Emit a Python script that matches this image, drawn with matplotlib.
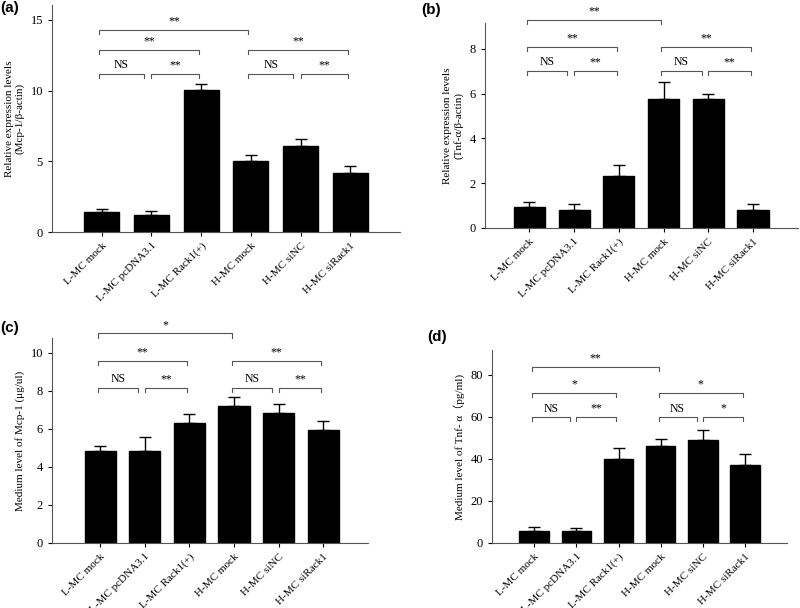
import matplotlib.pyplot as plt
import numpy as np

plt.rcParams['font.family'] = ['Liberation Serif', 'Noto Sans CJK SC', 'DejaVu Sans']

groups = ['L-MC mock', 'L-MC pcDNA3.1', 'L-MC Rack1(+)', 'H-MC mock', 'H-MC siNC', 'H-MC siRack1']

# means and error-bar tops
mcp_rel = [1.45, 1.2, 10.05, 5.0, 6.05, 4.2]
mcp_rel_top = [1.65, 1.5, 10.5, 5.45, 6.55, 4.7]
tnf_rel = [0.95, 0.8, 2.3, 5.75, 5.75, 0.8]
tnf_rel_top = [1.15, 1.05, 2.8, 6.5, 6.0, 1.08]
mcp_med = [4.85, 4.85, 6.3, 7.2, 6.85, 5.95]
mcp_med_top = [5.1, 5.55, 6.75, 7.65, 7.3, 6.4]
tnf_med = [5.5, 5.5, 40, 46, 49.2, 37]
tnf_med_top = [7.5, 7.3, 45, 49.7, 53.8, 42.5]

# significance labels: top, level2 left/right, level3 (4 brackets)
sig_a = ['**', '**', '**', 'NS', '**', 'NS', '**']
sig_b = ['**', '**', '**', 'NS', '**', 'NS', '**']
sig_c = ['*', '**', '**', 'NS', '**', 'NS', '**']
sig_d = ['**', '*', '*', 'NS', '**', 'NS', '*']

fig = plt.figure(figsize=(8, 6.08), dpi=100)


def bracket(ax, x0, x1, y, label, drop):
    ax.plot([x0, x0, x1, x1], [y - drop, y, y, y - drop], color='#555555',
            lw=0.8, clip_on=False)
    ax.text((x0 + x1) / 2, y + drop * 0.6, label, ha='center', va='bottom',
            fontsize=8.5, clip_on=False)


def panel(rect, vals, tops, ylim, yticks, ylabel, sigs, levels, letter, lpos, xl=-1.0):
    ax = fig.add_axes(rect)
    x = np.arange(len(groups))
    err = np.array(tops) - np.array(vals)
    ax.bar(x, vals, width=0.7, color='black', edgecolor='black')
    ax.errorbar(x, vals, yerr=[np.zeros(len(x)), err], fmt='none', ecolor='black',
                elinewidth=1, capsize=4, capthick=1)
    ax.set_xlim(xl, 6.0)
    ax.set_ylim(0, ylim)
    ax.set_yticks(yticks)
    ax.set_xticks(x)
    ax.set_xticklabels(groups, rotation=45, ha='right', rotation_mode='anchor', fontsize=8)
    ax.tick_params(axis='y', labelsize=9, length=3, width=0.8)
    ax.tick_params(axis='x', length=3, width=0.8)
    for s in ['top', 'right']:
        ax.spines[s].set_visible(False)
    for s in ['left', 'bottom']:
        ax.spines[s].set_color('#555555')
    ax.set_ylabel(ylabel, fontsize=8)
    drop = ylim * 0.02
    t, m, l = levels
    bracket(ax, -0.05, 2.95, t, sigs[0], drop)
    bracket(ax, -0.05, 1.95, m, sigs[1], drop)
    bracket(ax, 2.95, 4.95, m, sigs[2], drop)
    bracket(ax, -0.05, 0.85, l, sigs[3], drop)
    bracket(ax, 1.0, 1.95, l, sigs[4], drop)
    bracket(ax, 2.95, 3.85, l, sigs[5], drop)
    bracket(ax, 4.0, 4.95, l, sigs[6], drop)
    fig.text(lpos[0], lpos[1], letter, fontsize=11, fontweight='bold',
             family='Liberation Sans', va='top')
    return ax


panel([0.065, 0.6184, 0.435, 0.3734], mcp_rel, mcp_rel_top, 16.06, [0, 5, 10, 15],
      'Relative expression levels\n(Mcp-1/β-actin)', sig_a, (14.3, 12.9, 11.2),
      '(a)', (0.0, 0.998))
panel([0.606, 0.625, 0.391, 0.337], tnf_rel, tnf_rel_top, 9.15, [0, 2, 4, 6, 8],
      'Relative expression levels\n(Tnf-α/β-actin)', sig_b, (9.29, 8.1, 7.02),
      '(b)', (0.527, 0.995))
panel([0.065, 0.107, 0.395, 0.337], mcp_med, mcp_med_top, 10.76, [0, 2, 4, 6, 8, 10],
      'Medium level of Mcp-1 (μg/ul)', sig_c, (11.0, 9.55, 8.15),
      '(c)', (0.0, 0.472), xl=-1.08)
panel([0.615, 0.107, 0.369, 0.3174], tnf_med, tnf_med_top, 91.9, [0, 20, 40, 60, 80],
      'Medium level of Tnf- α（pg/ml)', sig_d, (83.8, 71.4, 60.0),
      '(d)', (0.534, 0.457))

fig.savefig('out.png', dpi=100)
